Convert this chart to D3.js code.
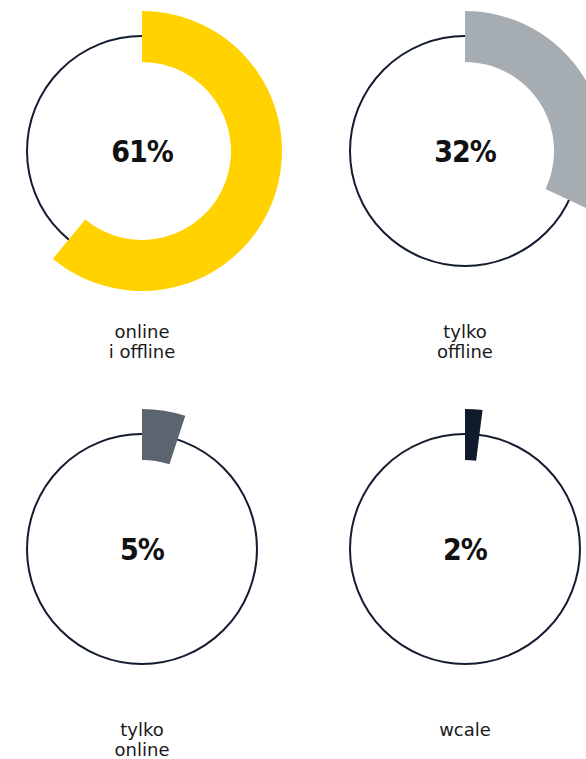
<!DOCTYPE html>
<html>
<head>
<meta charset="utf-8">
<script src="https://cdn.jsdelivr.net/npm/d3@7"></script>
<style>
  html, body { margin: 0; padding: 0; background: #ffffff; }
  svg { display: block; }
</style>
</head>
<body>
<div id="chart"></div>
<script>
// Share of respondents by channel
const categories = [["online", "i offline"], ["tylko", "offline"], ["tylko", "online"], ["wcale"]];
const values = [61, 32, 5, 2];
const palette = ["#FFD200", "#A5ACB2", "#5A6570", "#0F1A2D"];

const width = 586, height = 759;
const svg = d3.select("#chart").append("svg")
  .attr("width", width).attr("height", height);

// 2 x 2 grid of gauges
const col = d3.scalePoint().domain([0, 1]).range([142, 465]);
const row = d3.scalePoint().domain([0, 1]).range([151, 549]);

const ringR = 115;
const arc = d3.arc().innerRadius(89).outerRadius(140).startAngle(0);
const angle = d3.scaleLinear().domain([0, 100]).range([0, 2 * Math.PI]);

const g = svg.selectAll("g.gauge")
  .data(values)
  .join("g")
  .attr("class", "gauge")
  .attr("transform", (d, i) => `translate(${col(i % 2)},${row(Math.floor(i / 2))})`);

g.append("circle")
  .attr("r", ringR)
  .attr("fill", "none")
  .attr("stroke", "#141C30")
  .attr("stroke-width", 2);

g.append("path")
  .attr("d", d => arc({ endAngle: angle(d) }))
  .attr("fill", (d, i) => palette[i]);

g.append("text")
  .attr("text-anchor", "middle")
  .attr("y", 11)
  .attr("font-family", "DejaVu Sans Condensed, DejaVu Sans, sans-serif")
  .attr("font-weight", "bold")
  .attr("font-size", 30)
  .attr("letter-spacing", -1)
  .attr("fill", "#111111")
  .text(d => d + "%");

g.append("text")
  .attr("text-anchor", "middle")
  .attr("font-family", "DejaVu Sans, sans-serif")
  .attr("font-size", 18)
  .attr("fill", "#1a1a1a")
  .selectAll("tspan")
  .data((d, i) => categories[i])
  .join("tspan")
  .attr("x", 0)
  .attr("y", (t, j) => 186.5 + j * 20.5)
  .text(t => t);
</script>
</body>
</html>
